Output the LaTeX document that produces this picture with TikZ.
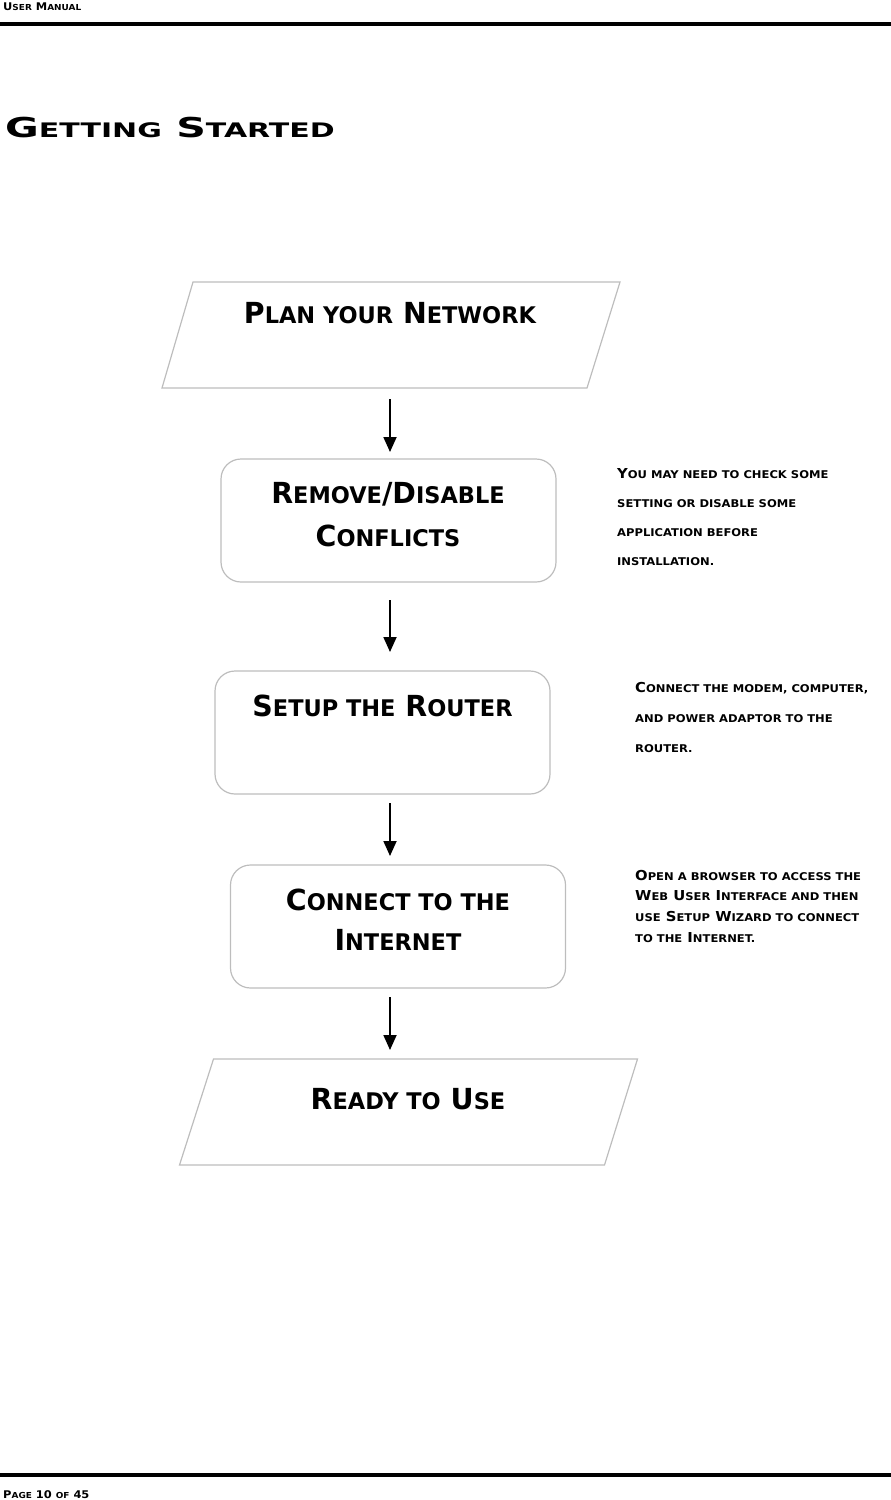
\documentclass[tikz,border=0pt]{standalone}
\usepackage{fontspec}
\setmainfont{DejaVu Sans}
\usetikzlibrary{arrows.meta}
\newfontfamily\nodeBig{DejaVu Sans}[FakeStretch=0.98]
\newfontfamily\nodeSmall{DejaVu Sans}[FakeStretch=0.98,Scale=0.79]
\newfontfamily\titleBig{DejaVu Sans}[FakeStretch=1.5]
\newfontfamily\titleSmall{DejaVu Sans}[FakeStretch=1.5,Scale=0.73]
\newfontfamily\noteBig{DejaVu Sans}[FakeStretch=1.08]
\newfontfamily\noteSmall{DejaVu Sans}[FakeStretch=1.08,Scale=0.78]
\newcommand\smallfam{}
\newcommand\lcaps[1]{{\smallfam #1}}
\definecolor{boxgray}{HTML}{BDBDBD}
\begin{document}
\begin{tikzpicture}[x=1pt,y=-1pt,
  boxline/.style={draw=boxgray,line width=1.2pt},
  roundbox/.style={boxline,rounded corners=20pt,minimum width=335pt,minimum height=123pt,inner sep=0pt,outer sep=0pt},
  parahold/.style={minimum width=458pt,minimum height=106pt,inner sep=0pt,outer sep=0pt},
  boxtext/.style={anchor=base,inner sep=0pt,font={\nodeBig\bfseries\fontsize{29}{41}\selectfont\renewcommand\smallfam{\nodeSmall}}},
  notetext/.style={anchor=base west,inner sep=0pt,font={\noteBig\bfseries\fontsize{13.7}{29}\selectfont\renewcommand\smallfam{\noteSmall}}},
  titletext/.style={anchor=base west,inner sep=0pt,font={\titleBig\bfseries\fontsize{27.4}{30}\selectfont\renewcommand\smallfam{\titleSmall}}},
  headtext/.style={anchor=base west,inner sep=0pt,font={\noteBig\bfseries\fontsize{10.6}{12}\selectfont\renewcommand\smallfam{\noteSmall}}},
  arr/.style={line width=1.8pt,-{Triangle[length=15pt,width=13pt]}}]
\useasboundingbox (0,0) rectangle (891,1500);
% header / footer
\node[headtext] (head) at (3,10) {U\lcaps{SER} M\lcaps{ANUAL}};
\coordinate (rulA) at (0,24);
\coordinate (rulB) at (891,24);
\draw[line width=4pt] (rulA) -- (rulB);
\coordinate (rulC) at (0,1475);
\coordinate (rulD) at (891,1475);
\draw[line width=3.5pt] (rulC) -- (rulD);
\node[headtext] (foot) at (3,1498) {P\lcaps{AGE} 10 \lcaps{OF} 45};
% title
\node[titletext] (title) at (5,137) {G\lcaps{ETTING} S\lcaps{TARTED}};
% boxes
\node[parahold] (p1) at (391,335) {};
\draw[boxline] ([xshift=31pt]p1.north west) -- (p1.north east) -- ([xshift=-33pt]p1.south east) -- (p1.south west) -- cycle;
\node[boxtext] (t1) at (390,323) {P\lcaps{LAN YOUR} N\lcaps{ETWORK}};
\node[roundbox] (b1) at (388.5,520.5) {};
\node[boxtext] (t2a) at (388,503) {R\lcaps{EMOVE}/D\lcaps{ISABLE}};
\node[boxtext] (t2b) at (388,546) {C\lcaps{ONFLICTS}};
\node[roundbox] (b2) at (382.5,732.5) {};
\node[boxtext] (t3) at (382.5,716) {S\lcaps{ETUP THE} R\lcaps{OUTER}};
\node[roundbox] (b3) at (398,926.5) {};
\node[boxtext] (t4a) at (398,910) {C\lcaps{ONNECT TO THE}};
\node[boxtext] (t4b) at (398,950) {I\lcaps{NTERNET}};
\node[parahold] (p2) at (408.5,1112) {};
\draw[boxline] ([xshift=34pt]p2.north west) -- (p2.north east) -- ([xshift=-33pt]p2.south east) -- (p2.south west) -- cycle;
\node[boxtext] (t5) at (408,1109) {R\lcaps{EADY TO} U\lcaps{SE}};
% arrows
\coordinate (ax) at (390,0);
\draw[arr,shorten <=11pt,shorten >=7pt] (p1.south -| ax) -- (b1.north -| ax);
\draw[arr,shorten <=18pt,shorten >=19pt] (b1.south -| ax) -- (b2.north -| ax);
\draw[arr,shorten <=9pt,shorten >=9pt] (b2.south -| ax) -- (b3.north -| ax);
\draw[arr,shorten <=9pt,shorten >=9pt] (b3.south -| ax) -- (p2.north -| ax);
% notes
\node[notetext] (n1a) at (617,478) {Y\lcaps{OU MAY NEED TO CHECK SOME}};
\node[notetext] (n1b) at (617,507) {\lcaps{SETTING OR DISABLE SOME}};
\node[notetext] (n1c) at (617,536) {\lcaps{APPLICATION BEFORE}};
\node[notetext] (n1d) at (617,565) {\lcaps{INSTALLATION.}};
\node[notetext] (n2a) at (635,692) {C\lcaps{ONNECT THE MODEM, COMPUTER,}};
\node[notetext] (n2b) at (635,722) {\lcaps{AND POWER ADAPTOR TO THE}};
\node[notetext] (n2c) at (635,752) {\lcaps{ROUTER.}};
\node[notetext] (n3a) at (635,880) {O\lcaps{PEN A BROWSER TO ACCESS THE}};
\node[notetext] (n3b) at (635,900.7) {W\lcaps{EB} U\lcaps{SER} I\lcaps{NTERFACE AND THEN}};
\node[notetext] (n3c) at (635,921.4) {\lcaps{USE} S\lcaps{ETUP} W\lcaps{IZARD TO CONNECT}};
\node[notetext] (n3d) at (635,942) {\lcaps{TO THE} I\lcaps{NTERNET.}};
\end{tikzpicture}
\end{document}
